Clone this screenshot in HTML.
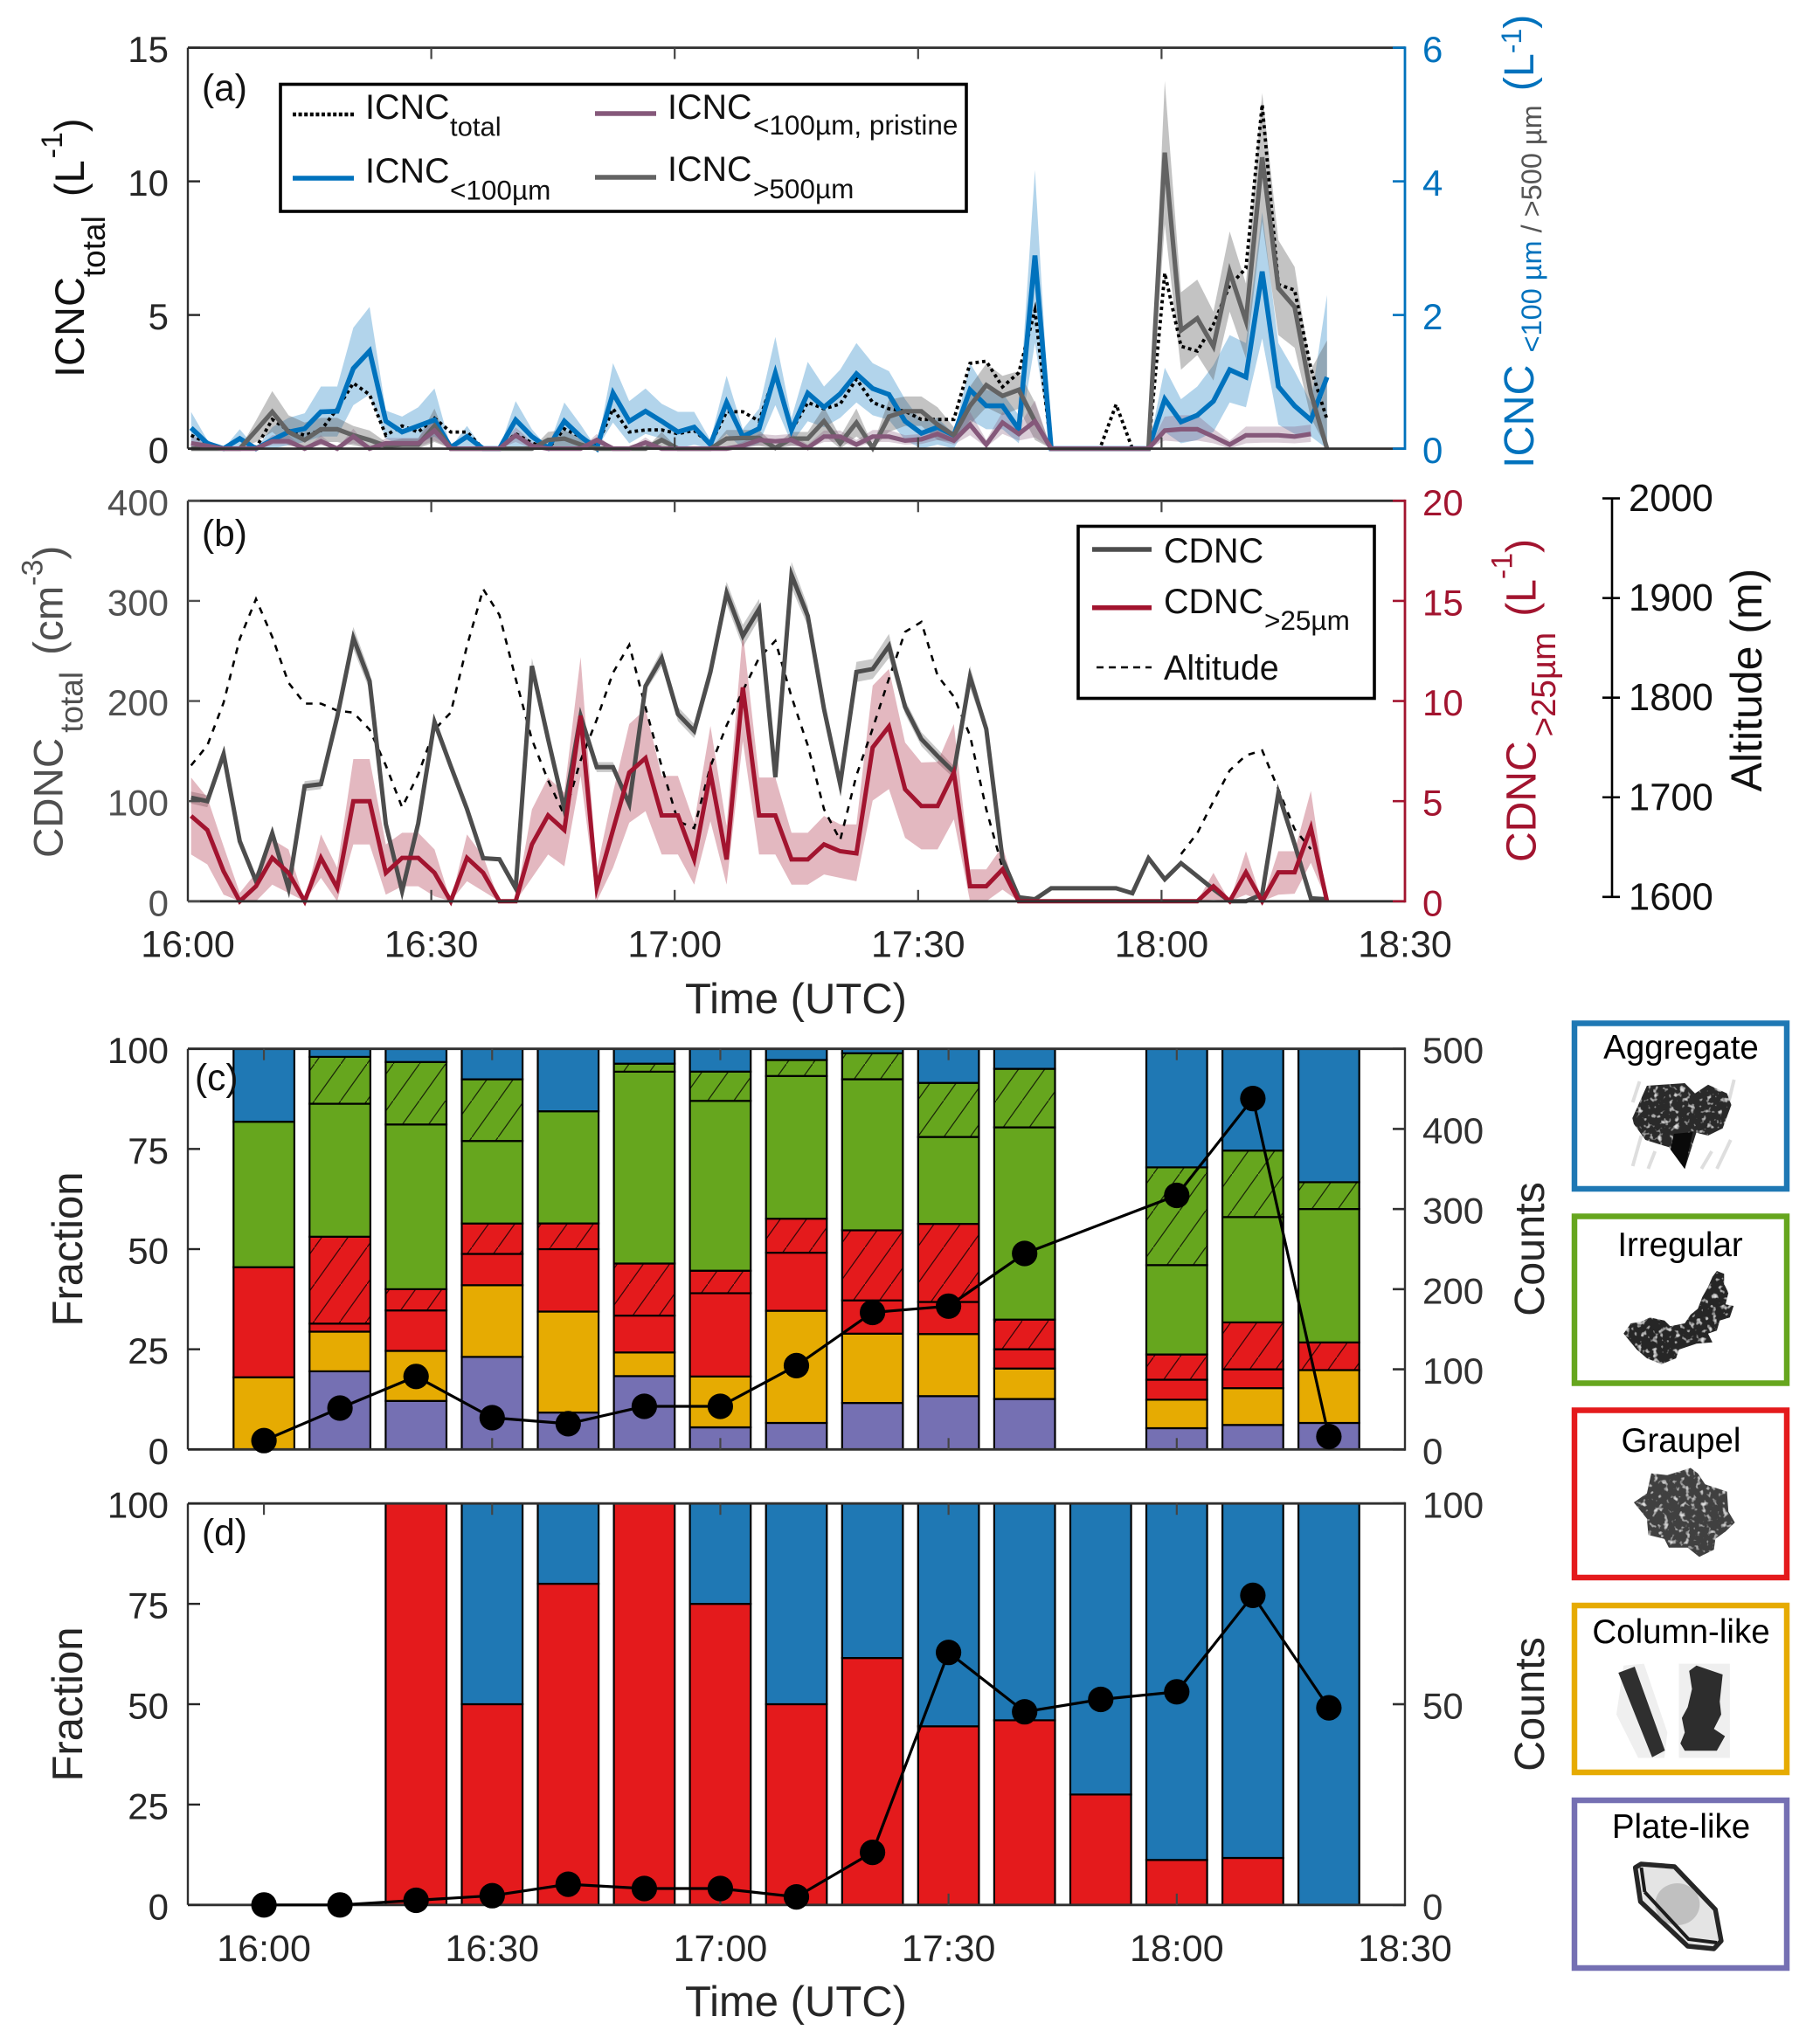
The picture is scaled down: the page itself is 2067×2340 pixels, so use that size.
<!DOCTYPE html>
<html lang="en">
<head>
<meta charset="utf-8">
<title>Ice and cloud droplet concentration time series with particle habit fractions</title>
<style>
html,body{margin:0;padding:0;background:#fff;}
svg{display:block;font-family:"Liberation Sans",Arial,sans-serif;}
text{fill:#262626;}
</style>
</head>
<body>
<svg id="figure" xmlns="http://www.w3.org/2000/svg" width="2067" height="2340" viewBox="0 0 2067 2340">
<defs>
<pattern id="hatch-green" patternUnits="userSpaceOnUse" width="30" height="42"><rect width="30" height="42" fill="#66a61e"/><path d="M-3 46.2L33 -4.2" stroke="#1c2a08" stroke-width="1.3"/></pattern>
<pattern id="hatch-red" patternUnits="userSpaceOnUse" width="30" height="42"><rect width="30" height="42" fill="#e41a1c"/><path d="M-3 46.2L33 -4.2" stroke="#3a0708" stroke-width="1.3"/></pattern>
<filter id="grain" x="-5%" y="-5%" width="110%" height="110%">
<feTurbulence type="fractalNoise" baseFrequency="0.16" numOctaves="2" seed="4" result="n"/>
<feColorMatrix in="n" type="matrix" values="0 0 0 0 .75  0 0 0 0 .75  0 0 0 0 .75  4 0 0 0 -2.3" result="w"/>
<feComposite in="w" in2="SourceAlpha" operator="in" result="spots"/>
<feMerge><feMergeNode in="SourceGraphic"/><feMergeNode in="spots"/></feMerge>
</filter>
</defs>

<g id="panel-a-marks"></g>
<g id="panel-b-marks"></g>
<g id="panel-c-marks"></g>
<g id="panel-d-marks"></g>
<g id="axes-layer"></g>

<!-- Panel labels -->
<text x="231" y="115" font-size="42.5" style="fill:#111">(a)</text>
<text x="231" y="625" font-size="42.5" style="fill:#111">(b)</text>
<text x="223" y="1248" font-size="42.5" style="fill:#111">(c)</text>
<text x="231" y="1769" font-size="42.5" style="fill:#111">(d)</text>

<!-- Axis titles -->
<text transform="translate(96,432) rotate(-90)" font-size="47" style="fill:#111">ICNC<tspan dy="24" font-size="37" style="fill:#111">total</tspan><tspan dy="-24" dx="22" style="fill:#111">(L</tspan><tspan dy="-25" dx="2" font-size="34" style="fill:#111">-1</tspan><tspan dy="25" style="fill:#111">)</tspan></text>
<text transform="translate(1755,536) rotate(-90)" font-size="48.5" style="fill:#0072bd">ICNC<tspan dy="9" dx="14" font-size="32.5" style="fill:#0072bd">&lt;100 µm </tspan><tspan font-size="32.5" style="fill:#555">/ &gt;500 µm</tspan><tspan dy="-9" dx="16" style="fill:#0072bd">(L</tspan><tspan dy="-14" font-size="32" style="fill:#0072bd">-1</tspan><tspan dy="14" style="fill:#0072bd">)</tspan></text>
<text transform="translate(71.4,982) rotate(-90)" font-size="47.5" style="fill:#505050">CDNC<tspan dy="23" dx="6" font-size="37" style="fill:#505050">total</tspan><tspan dy="-23" dx="19" style="fill:#505050">(cm</tspan><tspan dy="-23" font-size="34" style="fill:#505050">-3</tspan><tspan dy="23" style="fill:#505050">)</tspan></text>
<text transform="translate(1757.4,987) rotate(-90)" font-size="48" style="fill:#a2142f">CDNC<tspan dy="22.6" dx="5" font-size="38.5" style="fill:#a2142f">&gt;25µm</tspan><tspan dy="-22.6" dx="18" style="fill:#a2142f">(L</tspan><tspan dy="-27" font-size="34" style="fill:#a2142f">-1</tspan><tspan dy="27" style="fill:#a2142f">)</tspan></text>
<text transform="translate(2016,778.5) rotate(-90)" font-size="50" text-anchor="middle" style="fill:#111">Altitude (m)</text>
<text x="911" y="1160" font-size="49" text-anchor="middle">Time (UTC)</text>
<text x="911" y="2308" font-size="49" text-anchor="middle">Time (UTC)</text>
<text transform="translate(94,1430) rotate(-90)" font-size="49" text-anchor="middle">Fraction</text>
<text transform="translate(94,1951) rotate(-90)" font-size="49" text-anchor="middle">Fraction</text>
<text transform="translate(1767,1430) rotate(-90)" font-size="48.5" text-anchor="middle">Counts</text>
<text transform="translate(1767,1951) rotate(-90)" font-size="48.5" text-anchor="middle">Counts</text>

<!-- Legend a -->
<g>
<rect x="321" y="96.5" width="785" height="145.5" fill="#fff" stroke="#000" stroke-width="3.6"/>
<line x1="335" y1="131" x2="405" y2="131" stroke="#000" stroke-width="4.5" stroke-dasharray="4 2.6"/>
<text x="418" y="136" font-size="39.5" style="fill:#111">ICNC<tspan x="515" y="155.5" font-size="31" style="fill:#111">total</tspan></text>
<line x1="335" y1="204" x2="405" y2="204" stroke="#0072bd" stroke-width="5.5"/>
<text x="418" y="209" font-size="39.5" style="fill:#111">ICNC<tspan x="515" y="228.5" font-size="31.5" style="fill:#111">&lt;100µm</tspan></text>
<line x1="681" y1="130" x2="751" y2="130" stroke="#85587a" stroke-width="5.5"/>
<text x="764" y="136" font-size="39.5" style="fill:#111">ICNC<tspan x="862" y="154" font-size="31.5" style="fill:#111">&lt;100µm, pristine</tspan></text>
<line x1="681" y1="203" x2="751" y2="203" stroke="#636363" stroke-width="5.5"/>
<text x="764" y="207" font-size="39.5" style="fill:#111">ICNC<tspan x="862" y="227" font-size="31.5" style="fill:#111">&gt;500µm</tspan></text>
</g>

<!-- Legend b -->
<g>
<rect x="1234" y="602.5" width="339" height="197" fill="#fff" stroke="#000" stroke-width="3.6"/>
<line x1="1250" y1="629" x2="1318" y2="629" stroke="#4d4d4d" stroke-width="5.5"/>
<text x="1332" y="644" font-size="39.5" style="fill:#111">CDNC</text>
<line x1="1250" y1="695.8" x2="1318" y2="695.8" stroke="#a2142f" stroke-width="5.5"/>
<text x="1332" y="702" font-size="39.5" style="fill:#111">CDNC<tspan x="1447" y="721" font-size="31.5" style="fill:#111">&gt;25µm</tspan></text>
<line x1="1255" y1="764" x2="1318" y2="764" stroke="#000" stroke-width="2.6" stroke-dasharray="8 6"/>
<text x="1332" y="778" font-size="39.5" style="fill:#111">Altitude</text>
</g>

<!-- Habit key boxes -->
<g>
<g>
<rect x="1802" y="1171.5" width="243" height="189.5" fill="#fff" stroke="#1f78b4" stroke-width="6.5"/>
<text x="1924" y="1212" font-size="38.5" text-anchor="middle" style="fill:#000">Aggregate</text>
<g transform="matrix(.9833 0 0 1 29.9 0)">
<path d="M1870 1335L1880 1300M1888 1338L1896 1318M1950 1338L1962 1318M1968 1338L1984 1305M1870 1262L1878 1238M1982 1260L1988 1236" stroke="#dedede" stroke-width="4" fill="none"/>
<path filter="url(#grain)" d="M1886.5 1243L1930.6 1240L1942.5 1251.7L1957.7 1241.7L1979.7 1251.7L1984.8 1265L1974.7 1291.7L1957.7 1300L1944 1296.7L1930.6 1338.3L1912 1313.3L1884.8 1305L1871.3 1286.7L1869.6 1280Z" fill="#2b2b2b"/>
<path d="M1918 1298L1940 1296L1930.6 1338.3L1914 1316Z" fill="#0a0a0a"/>
</g>
</g>
<g>
<rect x="1802" y="1392.5" width="243" height="191" fill="#fff" stroke="#66a61e" stroke-width="6.5"/>
<text x="1923" y="1438" font-size="38.5" text-anchor="middle" style="fill:#000">Irregular</text>
<g transform="matrix(.9833 0 0 1 29.9 0)">
<path filter="url(#grain)" d="M1967.9 1455L1976.4 1458.3L1976.4 1470L1981.4 1480L1978 1493.3L1987.5 1495L1983 1508.3L1971.3 1511.7L1967.9 1523.3L1957.7 1526.7L1962.8 1536.7L1944.2 1538.3L1923.8 1545L1920.4 1555L1903.5 1561.7L1886.5 1555L1874.7 1545L1859.4 1526.7L1867.9 1515L1879.7 1513.3L1889.9 1508.3L1906.9 1511.7L1913.6 1518.3L1930.6 1515L1937.4 1505L1945.8 1498.3L1950.9 1485L1957.7 1473.3L1962.8 1461.7Z" fill="#262626"/>
</g>
</g>
<g>
<rect x="1802" y="1614.5" width="243" height="191.5" fill="#fff" stroke="#e41a1c" stroke-width="6.5"/>
<text x="1924" y="1662" font-size="38.5" text-anchor="middle" style="fill:#000">Graupel</text>
<g transform="matrix(.9833 0 0 1 29.9 0)">
<path filter="url(#grain)" d="M1891.6 1686.8L1910.3 1688.8L1937.4 1680.5L1945.8 1686.8L1954.3 1699.3L1979.7 1707.6L1981.4 1730.5L1988.9 1743L1978 1753.4L1966.2 1761.7L1964.5 1774.1L1947.5 1782.4L1934 1771.8L1912 1771.8L1906.9 1761.7L1888.2 1757.3L1886.5 1738.6L1871.3 1720L1886.5 1709.6Z" fill="#404040"/>
</g>
</g>
<g>
<rect x="1802" y="1838" width="243" height="191" fill="#fff" stroke="#e6ab02" stroke-width="6.5"/>
<text x="1924" y="1881" font-size="38.5" text-anchor="middle" style="fill:#000">Column-like</text>
<g transform="matrix(.9833 0 0 1 29.9 0)">
<path d="M1859.4 1906.7L1883.1 1904.6L1910.3 1983.4L1906.9 2012.5L1876.4 2012.5L1851 1962.7ZM1923.8 1904.6L1983.1 1904.6L1983.1 2012.5L1923.8 2012.5Z" fill="#efefef"/>
<path d="M1853.3 1915L1872.3 1908L1907.5 2004L1892.6 2011.7Z" fill="#2f2f2f"/>
<path d="M1935.7 1912.9L1944.2 1906.7L1974.7 1917L1971.3 1948L1973 1962.7L1964.5 1979.3L1977.4 1987.6L1967.9 2004.2L1930.6 2004.2L1925.5 1995.9L1930.6 1983.4L1927.2 1966.8L1934 1954.4L1939 1933.6Z" fill="#2d2d2d"/>
</g>
</g>
<g>
<rect x="1802" y="2061" width="243" height="192" fill="#fff" stroke="#7570b3" stroke-width="6.5"/>
<text x="1924" y="2104" font-size="38.5" text-anchor="middle" style="fill:#000">Plate-like</text>
<g transform="matrix(.9833 0 0 1 29.9 0)">
<path d="M1873 2138L1879.7 2134L1918.7 2137L1966.2 2186L1973 2222L1964.5 2231L1934 2228L1879 2177Z" fill="#e4e4e4" stroke="#262626" stroke-width="5.5" stroke-linejoin="round"/>
<ellipse cx="1922" cy="2180" rx="26" ry="24" fill="#a8a8a8" fill-opacity=".6"/>
<path d="M1884 2166L1935 2220L1968 2224M1880 2138L1884 2166" fill="none" stroke="#1c1c1c" stroke-width="4"/>
</g>
</g>
</g>

<script>
// ---------- Panel (a) data: 2-minute samples ----------
const sampleStartMin = 0.4;
const sampleStepMin = 2;
const icncTotal = [.50,.21,0,0,.03,1.09,.68,.50,.68,1.49,2.45,2.02,.50,.85,.62,1.14,.62,.62,0,0,.56,.21,0,.74,.44,.09,1.49,.62,.70,.70,.56,.68,.15,1.38,1.38,1.03,2.84,.68,1.73,1.49,1.67,2.60,1.73,1.49,1.40,1.09,1.09,1.09,3.19,3.27,2.31,2.84,5.17,0,0,0,0,1.65,0,0,6.57,3.83,3.65,4.65,6.10,6.75,12.88,6.14,5.93,3.01,1.09];
const icncSmall = [.31,.08,0,.15,0,.13,.25,.30,.55,.56,1.2,1.46,.41,.25,.34,.43,.02,.18,0,0,.43,.18,.01,.41,.18,0,.83,.41,.56,.41,.25,.32,.06,.69,.18,.30,1.13,.28,.83,.62,.82,1.12,.90,.81,.41,.23,.32,.20,.88,.64,.64,.29,2.89,0,0,0,0,0,0,0,.74,.40,.50,.71,1.18,1.07,2.65,.93,.64,.43,1.07];
const icncSmallUpper = [.55,.13,0,.29,0,.32,.46,.53,.93,.93,1.81,2.12,.57,.48,.62,.90,.02,.34,0,0,.71,.29,.01,.69,.36,0,1.28,.71,.90,.67,.55,.55,.13,1.09,.29,.60,1.67,.46,1.30,.93,1.18,1.58,1.28,1.16,.74,.41,.46,.22,1.28,.88,.83,.50,4.17,0,0,0,0,0,0,0,1.21,.74,.93,1.25,1.70,1.58,3.54,1.58,1.16,.69,2.30];
const icncSmallLower = [0,0,0,0,0,0,.05,.1,.18,.18,.65,.81,.15,.04,.08,.18,0,0,0,0,0,0,0,0,0,0,.39,.08,.22,.15,0,.06,0,.22,0,.08,.65,.08,.41,.32,.46,.69,.50,.43,.13,0,.06,0,.43,.29,.29,.08,1.58,0,0,0,0,0,0,0,.25,.08,.13,.25,.69,.62,1.65,.36,.22,.18,0];
const icncLarge = [0,0,0,0,.27,.55,.25,.13,.29,.29,.20,.13,.04,.06,.06,.34,0,0,0,0,0,0,.13,.15,.06,0,0,0,0,.13,0,0,0,.15,.16,.16,.01,.15,.15,.41,.08,.39,.01,.48,.56,.56,.36,.20,.64,.95,.79,.88,.41,0,0,0,0,0,0,0,4.43,1.77,1.95,1.53,2.65,1.91,4.36,2.40,2.12,.83,0];
const icncLargeUpper = [0,0,0,0,.42,.86,.50,.39,.46,.46,.34,.27,.10,.15,.15,.60,0,0,0,0,0,0,.25,.28,.15,0,0,0,0,.25,0,0,0,.28,.28,.28,.05,.25,.25,.62,.18,.60,.05,.73,.78,.78,.62,.32,.93,1.27,1.09,1.16,.69,0,0,0,0,0,0,0,5.50,2.34,2.53,2.05,3.25,2.47,5.32,3.12,2.72,1.18,1.62];
const icncLargeLower = [0,0,0,0,.1,.25,.05,0,.1,.1,.05,0,0,0,0,.1,0,0,0,0,0,0,.03,.03,0,0,0,0,0,.03,0,0,0,.03,.04,.04,0,.04,.04,.2,0,.18,0,.25,.34,.34,.13,.1,.36,.62,.5,.6,.13,0,0,0,0,0,0,0,3.36,1.18,1.40,1.02,2.05,1.35,3.40,1.70,1.51,.46,0];
const icncPristine = [.08,.04,0,0,0,.11,.11,0,.11,0,.18,0,.08,.08,.08,.27,0,0,0,0,.20,.04,0,0,0,.13,0,0,.09,0,0,0,0,0,.04,.13,.11,.13,.01,.18,.18,.06,.18,.18,.12,.14,.22,.12,.36,.06,.39,.22,.41,0,0,0,0,0,0,0,.27,.29,.29,.18,.06,.20,.20,.20,.18,.22,null];
const icncPristineUpper = [.2,.1,0,0,0,.2,.2,0,.2,0,.3,0,.16,.16,.16,.45,0,0,0,0,.32,.1,0,0,0,.22,0,0,.17,0,0,0,0,0,.1,.22,.2,.22,.06,.27,.27,.13,.28,.28,.2,.22,.32,.2,.55,.13,.55,.34,.72,0,0,0,0,0,0,0,.48,.5,.5,.3,.12,.33,.33,.33,.33,.36,null];
const icncPristineLower = [.03,0,0,0,0,.05,.05,0,.05,0,.08,0,.03,.03,.03,.12,0,0,0,0,.1,0,0,0,0,.05,0,0,.03,0,0,0,0,0,0,.05,.05,.05,0,.1,.1,.02,.1,.1,.06,.07,.13,.06,.2,.02,.22,.12,.17,0,0,0,0,0,0,0,.12,.1,.12,.08,0,.08,.09,.09,.08,.1,null];

// ---------- Panel (b) data ----------
const cdnc = [103.5,100,147,60,20,68,13,115,117,184,263,220,77,10,78,179,135,92,43,42,13,235,162,92,185,134,134,97,215,243,187,170,229,308,265,292,124,326,285,192,117,229,232,255,194,162,145,129,224,172,42,4,2,13,13,13,13,13,8,43,22,38,25,12,0,0,7,108,57,3,2];
const cdncSpread = [6,6,5,3,2,3,2,5,5,6,11,9,4,2,4,4,3,3,2,2,2,8,5,4,5,5,5,4,5,8,7,7,9,11,11,10,3,13,10,5,4,10,10,12,7,7,7,6,11,5,2,1,1,1,1,1,1,1,1,1,1,1,1,1,0,0,1,2,1,1,1];
const cdncLarge = [4.26,3.56,1.5,0,.75,2.17,1.42,0,2.17,.67,5,5,1.42,2.17,2.17,1.42,0,2.17,1.42,0,0,2.84,4.29,3.56,9.27,.67,3.56,6.43,7.15,4.29,4.29,2.09,6.43,2.09,10.68,4.29,4.29,2.09,2.09,2.84,2.5,2.39,7.68,8.73,5.59,4.76,4.76,6.43,.75,.75,1.59,0,0,0,0,0,0,0,0,0,0,0,0,.75,0,1.45,0,1.45,1.45,3.67,0];
const cdncLargeUpper = [6.18,5.18,2.75,.42,1.42,3.09,2.59,0,3.34,1.67,7.1,7.1,2.84,3.42,3.42,2.59,0,3.34,2.25,0,0,4.59,6.18,5.43,12.19,1.59,5.43,8.85,9.6,6.26,6.26,3.92,8.76,3.76,13.44,6.18,6.18,3.42,3.42,4.26,3.84,3.84,10.77,11.6,7.93,6.93,6.96,8.85,1.59,1.59,2.75,0,0,0,0,0,0,0,0,0,0,0,0,1.42,0,2.5,0,2.5,2.5,5.51,0];
const cdncLargeLower = [2.34,1.84,.33,0,0,.83,.42,0,1.17,0,2.84,2.84,.33,.75,.75,.25,0,1,.5,0,0,1.17,2.34,1.75,6.26,0,1.67,3.92,4.5,2.34,2.34,.83,4,.83,8.01,2.34,2.34,.83,.83,1.34,1.17,1,5.03,5.6,3.17,2.59,2.59,4.09,0,0,.58,0,0,0,0,0,0,0,0,0,0,0,0,.08,0,.33,0,.33,.38,1.92,0];
const altitude = [1732,1752,1795,1859,1899,1861,1815,1794,1794,1787,1785,1768,1732,1690,1723,1768,1785,1852,1909,1883,1819,1758,1717,1682,1737,1778,1825,1853,1790,1731,1676,1669,1731,1772,1807,1840,1857,1801,1752,1688,1657,1722,1769,1819,1866,1876,1822,1801,1762,1688,1629,null,null,null,null,null,null,null,null,null,null,1643,1664,1696,1727,1742,1747,1708,1668,1648,null];

// ---------- Panel (c) data: habit fractions per 10-minute bin ----------
const binMinutes = [0,10,20,30,40,50,60,70,80,90,100,110,120,130,140];
const plateLike = [0,19.5,12.1,23.1,9.2,18.3,5.5,6.6,11.6,13.3,12.6,0,5.3,6.1,6.6];
const columnLike = [18,9.9,12.5,17.9,25.2,5.9,12.7,28,17.3,15.5,7.6,0,7.1,9.2,13.2];
const graupelSolid = [27.5,2,10.1,7.8,15.6,9.2,20.8,14.5,8.3,8,4.8,0,5,4.7,0];
const graupelHatched = [0,21.7,5.3,7.6,6.4,13,5.6,8.5,17.5,19.5,7.4,0,6.3,11.7,6.9];
const irregularSolid = [36.3,33.2,41.1,20.6,28,47.9,42.4,35.6,37.7,21.7,48,0,22.3,26.3,33.3];
const irregularHatched = [0,11.7,15.6,15.4,0,2,7.3,4,6.5,13.5,14.6,0,24.4,16.6,6.7];
const aggregate = [18.2,2,3.3,7.6,15.6,3.7,5.7,2.8,1.1,8.5,5,0,29.6,25.4,33.3];
const countsC = [11,51.6,91,39.6,32,53.8,53.8,104.6,171,178.8,244.5,null,317,438,16];

// ---------- Panel (d) data ----------
const graupelD = [0,0,100,50,80,100,75,50,61.5,44.5,46,27.5,11.2,11.7,0];
const aggregateD = [0,0,0,50,20,0,25,50,38.5,55.5,54,72.5,88.8,88.3,100];
const countsD = [0,0,1.15,2.3,5.15,4.1,4.1,2,13.1,62.9,48.1,51.2,53.1,77.1,49.1];

// ---------- Tick arrays ----------
const timeTickMinutes = [0,30,60,90,120,150];
const timeTickLabels = ["16:00","16:30","17:00","17:30","18:00","18:30"];
const icncLeftTicks = [0,5,10,15];
const icncRightTicks = [0,2,4,6];
const cdncLeftTicks = [0,100,200,300,400];
const cdncRightTicks = [0,5,10,15,20];
const altitudeTicks = [1600,1700,1800,1900,2000];
const fractionTicks = [0,25,50,75,100];
const countsCTicks = [0,100,200,300,400,500];
const countsDTicks = [0,50,100];

// ---------- Axis functions ----------
const plotLeft = 215, plotRight = 1608;
const aTop = 54.6, aBottom = 513.6, bTop = 573.3, bBottom = 1031.8;
const cTop = 1200.7, cBottom = 1659.3, dTop = 1721.2, dBottom = 2180.8;
const xLine = m => plotLeft + (m / 150) * (plotRight - plotLeft);
const xBar = m => plotLeft + ((m + 10) / 160) * (plotRight - plotLeft);
const scale = (lo, hi, bottom, top) => v => bottom - ((v - lo) / (hi - lo)) * (bottom - top);
const yIcncLeft = scale(0, 15, aBottom, aTop);
const yIcncRight = scale(0, 6, aBottom, aTop);
const yCdncLeft = scale(0, 400, bBottom, bTop);
const yCdncRight = scale(0, 20, bBottom, bTop);
const yAltitude = scale(1600, 2000, 1026.8, 570.6);
const yFracC = scale(0, 100, cBottom, cTop);
const yCountC = scale(0, 500, cBottom, cTop);
const yFracD = scale(0, 100, dBottom, dTop);
const yCountD = scale(0, 100, dBottom, dTop);
const sampleX = i => xLine(sampleStartMin + i * sampleStepMin);

const NS = "http://www.w3.org/2000/svg";
function mk(tag, attrs, parent) {
  const el = document.createElementNS(NS, tag);
  for (const k in attrs) el.setAttribute(k, attrs[k]);
  parent.appendChild(el);
  return el;
}
function linePath(values, xFn, yFn, parent, color, width, dash) {
  let d = "", pen = false;
  values.forEach((v, i) => {
    if (v === null) { pen = false; return; }
    d += (pen ? "L" : "M") + xFn(i).toFixed(1) + " " + yFn(v).toFixed(1);
    pen = true;
  });
  const attrs = { d: d, fill: "none", stroke: color, "stroke-width": width, "stroke-linejoin": "miter", "stroke-miterlimit": 6 };
  if (dash) attrs["stroke-dasharray"] = dash;
  return mk("path", attrs, parent);
}
function bandPath(upper, lower, yFn, parent, color, opacity) {
  let d = "", run = [];
  const flush = () => {
    if (run.length > 1) {
      d += "M" + run.map(i => sampleX(i).toFixed(1) + " " + yFn(upper[i]).toFixed(1)).join("L");
      d += "L" + run.slice().reverse().map(i => sampleX(i).toFixed(1) + " " + yFn(lower[i]).toFixed(1)).join("L") + "Z";
    }
    run = [];
  };
  upper.forEach((v, i) => { if (v === null) flush(); else run.push(i); });
  flush();
  return mk("path", { d: d, fill: color, "fill-opacity": opacity, stroke: "none" }, parent);
}

// ---------- Draw panel (a) ----------
const gA = document.getElementById("panel-a-marks");
let el;
el = bandPath(icncSmallUpper, icncSmallLower, yIcncRight, gA, "#0072bd", 0.3);


el = bandPath(icncLargeUpper, icncLargeLower, yIcncRight, gA, "#5a5a5a", 0.36);


el = bandPath(icncPristineUpper, icncPristineLower, yIcncRight, gA, "#85587a", 0.3);


el = linePath(icncTotal, sampleX, yIcncLeft, gA, "#000", 3.8, "3.8 3.8");


el = linePath(icncSmall, sampleX, yIcncRight, gA, "#0072bd", 5.6);


el = linePath(icncLarge, sampleX, yIcncRight, gA, "#636363", 5.2);


el = linePath(icncPristine, sampleX, yIcncRight, gA, "#85587a", 5.2);



// ---------- Draw panel (b) ----------
const gB = document.getElementById("panel-b-marks");
const cdncUpper = cdnc.map((v, i) => v + cdncSpread[i]);
const cdncLower = cdnc.map((v, i) => Math.max(0, v - cdncSpread[i]));
el = bandPath(cdncUpper, cdncLower, yCdncLeft, gB, "#4d4d4d", 0.3);


el = bandPath(cdncLargeUpper, cdncLargeLower, yCdncRight, gB, "#a2142f", 0.3);


el = linePath(altitude, sampleX, yAltitude, gB, "#000", 2.6, "7.5 8");


el = linePath(cdnc, sampleX, yCdncLeft, gB, "#4d4d4d", 5);


el = linePath(cdncLarge, sampleX, yCdncRight, gB, "#a2142f", 5);



// ---------- Stacked bars ----------
const barWidth = 69.6;
function stackRect(parent, m, base, val, yFn, fill) {
  return mk("rect", {
    x: (xBar(m) - barWidth / 2).toFixed(1),
    y: yFn(base + val).toFixed(1),
    width: barWidth,
    height: (yFn(base) - yFn(base + val)).toFixed(1),
    fill: fill, stroke: "#000", "stroke-width": 2.2
  }, parent);
}
const gC = document.getElementById("panel-c-marks");
const stackC = [
  { values: plateLike, fill: "#7570b3", name: "bar-plate-like" },
  { values: columnLike, fill: "#e6ab02", name: "bar-column-like" },
  { values: graupelSolid, fill: "#e41a1c", name: "bar-graupel" },
  { values: graupelHatched, fill: "url(#hatch-red)", name: "bar-graupel-hatched" },
  { values: irregularSolid, fill: "#66a61e", name: "bar-irregular" },
  { values: irregularHatched, fill: "url(#hatch-green)", name: "bar-irregular-hatched" },
  { values: aggregate, fill: "#1f78b4", name: "bar-aggregate" }
];
binMinutes.forEach((m, i) => {
  let base = 0;
  stackC.forEach(s => {
    const v = s.values[i];
    if (v > 0) {
      const r = stackRect(gC, m, base, v, yFracC, s.fill);
      
      
    }
    base += v;
  });
});
const gD = document.getElementById("panel-d-marks");
binMinutes.forEach((m, i) => {
  if (graupelD[i] > 0) {
    const r = stackRect(gD, m, 0, graupelD[i], yFracD, "#e41a1c");
    
    
  }
  if (aggregateD[i] > 0) {
    const r = stackRect(gD, m, graupelD[i], aggregateD[i], yFracD, "#1f78b4");
    
    
  }
});

// ---------- Axes ----------
const gAx = document.getElementById("axes-layer");
const AXC = "#303030";
function seg(x1, y1, x2, y2, color, w) {
  return mk("line", { x1: x1, y1: y1, x2: x2, y2: y2, stroke: color, "stroke-width": w }, gAx);
}
function label(x, y, str, anchor, color, size) {
  const t = mk("text", { x: x, y: y, "text-anchor": anchor, "font-size": size }, gAx);
  t.setAttribute("style", "fill:" + color);
  t.textContent = str;
  return t;
}
function frame(top, bottom, prefix) {
  let l;
  l = seg(plotLeft, top, plotRight, top, AXC, 2.8);
  
  
  l = seg(plotLeft, bottom, plotRight, bottom, AXC, 2.8);
  
  
  l = seg(plotLeft, top, plotLeft, bottom, AXC, 2.4);
  
  
}
function timeTicks(top, bottom, xFn, prefix) {
  timeTickMinutes.forEach(m => {
    if (m === 150 || xFn(m) <= plotLeft + 1) return;
    let l;
    l = seg(xFn(m), top, xFn(m), top + 13, "#444", 2.2);
    
    
    l = seg(xFn(m), bottom, xFn(m), bottom - 13, "#444", 2.2);
    
    
  });
}
function leftTicks(ticks, yFn, color, prefix) {
  ticks.forEach(v => {
    const l = seg(plotLeft, yFn(v), plotLeft + 14, yFn(v), color, 2.4);
    
    
    const t = label(193, yFn(v) + 16.5, String(v), "end", color, 42);
    
    
  });
}
function rightAxis(ticks, yFn, top, bottom, color, w, prefix) {
  const s = seg(plotRight, top - 1.4, plotRight, bottom + 1.4, color, w);
  
  
  ticks.forEach(v => {
    const l = seg(plotRight, yFn(v), plotRight - 14, yFn(v), color, 2.6);
    
    
    const t = label(1628, yFn(v) + 16.5, String(v), "start", color, 42);
    
    
  });
}
function timeLabels(xFn, y, prefix) {
  timeTickMinutes.forEach((m, i) => {
    const t = label(xFn(m), y, timeTickLabels[i], "middle", "#262626", 43);
    
    
  });
}

frame(aTop, aBottom, "panel-a");
timeTicks(aTop, aBottom, xLine, "panel-a");
leftTicks(icncLeftTicks, yIcncLeft, "#262626", "panel-a");
rightAxis(icncRightTicks, yIcncRight, aTop, aBottom, "#0072bd", 2.8, "panel-a");

frame(bTop, bBottom, "panel-b");
timeTicks(bTop, bBottom, xLine, "panel-b");
leftTicks(cdncLeftTicks, yCdncLeft, "#505050", "panel-b");
rightAxis(cdncRightTicks, yCdncRight, bTop, bBottom, "#a2142f", 2.8, "panel-b");
timeLabels(xLine, 1095.7, "panel-b");

const altSpine = seg(1845, yAltitude(2000), 1845, yAltitude(1600), "#000", 2.6);


altitudeTicks.forEach(v => {
  const l = seg(1834, yAltitude(v), 1854, yAltitude(v), "#000", 2.6);
  
  
  const t = label(1864, yAltitude(v) + 14.5, String(v), "start", "#111", 43.5);
  
  
});

frame(cTop, cBottom, "panel-c");
timeTicks(cTop, cBottom, xBar, "panel-c");
leftTicks(fractionTicks, yFracC, "#262626", "panel-c");
rightAxis(countsCTicks, yCountC, cTop, cBottom, AXC, 2.4, "panel-c");

frame(dTop, dBottom, "panel-d");
timeTicks(dTop, dBottom, xBar, "panel-d");
leftTicks(fractionTicks, yFracD, "#262626", "panel-d");
rightAxis(countsDTicks, yCountD, dTop, dBottom, AXC, 2.4, "panel-d");
timeLabels(xBar, 2245, "panel-d");

// ---------- Count lines with markers (drawn over the axes) ----------
function drawCounts(values, yFn, lineName, pointName) {
  const line = linePath(values, i => xBar(binMinutes[i]), yFn, gAx, "#000", 3.2);
  
  
  let last = null;
  const pts = [];
  values.forEach((v, i) => { if (v !== null) pts.push([i, v]); });
  // bridge the missing bin so the line stays continuous, as in the figure
  let d = "";
  pts.forEach(p => {
    d += (last === null ? "M" : "L") + xBar(binMinutes[p[0]]).toFixed(1) + " " + yFn(p[1]).toFixed(1);
    last = p;
  });
  line.setAttribute("d", d);
  pts.forEach(p => {
    const c = mk("circle", { cx: xBar(binMinutes[p[0]]).toFixed(1), cy: yFn(p[1]).toFixed(1), r: 14.6, fill: "#000" }, gAx);
    
    
  });
}
drawCounts(countsC, yCountC, "panel-c-counts-line", "panel-c-counts-point");
drawCounts(countsD, yCountD, "panel-d-counts-line", "panel-d-counts-point");
</script>
</svg>
</body>
</html>
